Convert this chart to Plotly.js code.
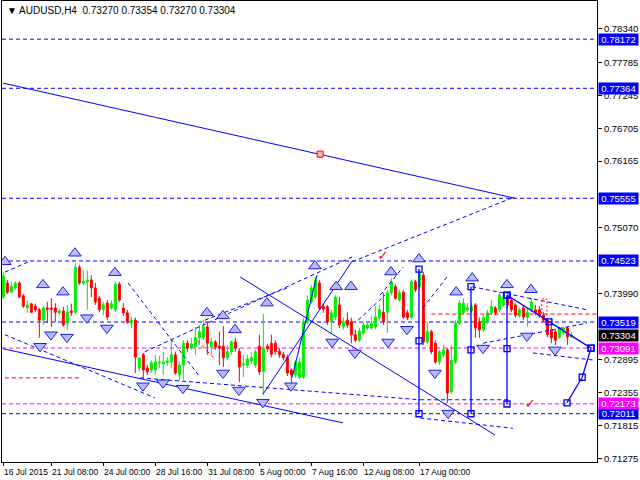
<!DOCTYPE html>
<html><head><meta charset="utf-8">
<script src="https://cdn.plot.ly/plotly-3.0.1.min.js"></script>
<style>html,body{margin:0;padding:0;background:#fff}#chart{width:640px;height:480px}</style>
</head><body><div id="chart"></div>
<script>
// ---- candle data (H4 bars, index 0..142) ----
const open = [0.7393,0.7416,0.7401,0.7408,0.7416,0.7395,0.7375,0.7382,0.7378,0.7372,0.7355,0.7375,0.7375,0.7375,0.7367,0.7370,0.7350,0.7370,0.7368,0.7442,
0.7416,0.7418,0.7421,0.7408,0.7391,0.7372,0.7383,0.7375,0.7372,0.7414,0.7375,0.7367,0.7350,0.7355,0.7276,0.7298,0.7276,0.7273,0.7273,0.7285,
0.7283,0.7285,0.7286,0.7298,0.7265,0.7281,0.7317,0.7309,0.7311,0.7326,0.7326,0.7344,0.7311,0.7319,0.7312,0.7312,0.7293,0.7303,0.7319,0.7304,
0.7281,0.7281,0.7288,0.7281,0.7312,0.7270,0.7312,0.7317,0.7317,0.7304,0.7298,0.7293,0.7273,0.7265,0.7261,0.7261,0.7352,0.7385,0.7393,0.7416,
0.7377,0.7377,0.7352,0.7360,0.7380,0.7344,0.7355,0.7352,0.7331,0.7322,0.7334,0.7342,0.7342,0.7344,0.7359,0.7368,0.7368,0.7400,0.7410,0.7388,
0.7401,0.7367,0.7360,0.7418,0.7410,0.7429,0.7319,0.7336,0.7317,0.7286,0.7298,0.7306,0.7237,0.7286,0.7350,0.7367,0.7372,0.7370,0.7380,0.7352,
0.7339,0.7352,0.7367,0.7375,0.7372,0.7380,0.7393,0.7388,0.7380,0.7362,0.7375,0.7360,0.7372,0.7372,0.7372,0.7363,0.7355,0.7339,0.7336,0.7327,
0.7334,0.7342,0.73270];
const high = [0.7434,0.7421,0.7418,0.7419,0.7419,0.7398,0.7387,0.7383,0.7382,0.7375,0.7378,0.7385,0.7391,0.7383,0.7373,0.7377,0.7380,0.7382,0.7449,0.7446,
0.7437,0.7437,0.7429,0.7416,0.7395,0.7385,0.7388,0.7388,0.7418,0.7418,0.7383,0.7372,0.7360,0.7359,0.7293,0.7301,0.7281,0.7289,0.7298,0.7296,
0.7303,0.7294,0.7322,0.7303,0.7286,0.7322,0.7322,0.7326,0.7344,0.7347,0.7355,0.7352,0.7326,0.7322,0.7336,0.7345,0.7314,0.7322,0.7326,0.7309,
0.7298,0.7298,0.7303,0.7306,0.7331,0.7365,0.7316,0.7331,0.7322,0.7309,0.7303,0.7298,0.7276,0.7289,0.7293,0.7359,0.7396,0.7413,0.7426,0.7421,
0.7383,0.7380,0.7372,0.7396,0.7393,0.7359,0.7368,0.7359,0.7339,0.7342,0.7352,0.7352,0.7362,0.7378,0.7380,0.7400,0.7405,0.7424,0.7414,0.7405,
0.7405,0.7372,0.7421,0.7421,0.7437,0.7434,0.7352,0.7339,0.7322,0.7306,0.7314,0.7309,0.7314,0.7355,0.7388,0.7391,0.7383,0.7383,0.7383,0.7359,
0.7363,0.7372,0.7388,0.7378,0.7400,0.7401,0.7396,0.7391,0.7383,0.7375,0.7380,0.7375,0.7391,0.7380,0.7378,0.7368,0.7359,0.7359,0.7339,0.7345,
0.7345,0.7345,0.73354];
const low = [0.7390,0.7398,0.7400,0.7405,0.7391,0.7375,0.7367,0.7367,0.7368,0.7326,0.7347,0.7350,0.7344,0.7352,0.7363,0.7344,0.7339,0.7362,0.7365,0.7413,
0.7413,0.7372,0.7393,0.7380,0.7368,0.7363,0.7355,0.7372,0.7368,0.7385,0.7362,0.7349,0.7342,0.7268,0.7270,0.7260,0.7265,0.7268,0.7265,0.7276,
0.7265,0.7280,0.7276,0.7265,0.7255,0.7257,0.7303,0.7306,0.7298,0.7314,0.7322,0.7298,0.7298,0.7306,0.7281,0.7278,0.7289,0.7298,0.7303,0.7253,
0.7261,0.7276,0.7283,0.7276,0.7265,0.7232,0.7303,0.7294,0.7298,0.7293,0.7289,0.7263,0.7248,0.7260,0.7258,0.7258,0.7349,0.7382,0.7390,0.7372,
0.7367,0.7347,0.7334,0.7355,0.7342,0.7339,0.7342,0.7317,0.7319,0.7319,0.7331,0.7339,0.7339,0.7340,0.7354,0.7347,0.7334,0.7396,0.7388,0.7385,
0.7357,0.7355,0.7357,0.7401,0.7406,0.7314,0.7316,0.7299,0.7283,0.7281,0.7294,0.7219,0.7234,0.7283,0.7347,0.7363,0.7368,0.7367,0.7326,0.7326,
0.7336,0.7349,0.7363,0.7363,0.7368,0.7377,0.7375,0.7368,0.7359,0.7359,0.7355,0.7344,0.7368,0.7363,0.7359,0.7352,0.7327,0.7317,0.7314,0.7324,
0.7331,0.7314,0.73270];
const close = [0.7428,0.7401,0.7410,0.7416,0.7393,0.7378,0.7380,0.7368,0.7372,0.7355,0.7375,0.7373,0.7373,0.7368,0.7370,0.7347,0.7368,0.7367,0.7442,0.7416,
0.7419,0.7421,0.7408,0.7385,0.7372,0.7380,0.7360,0.7382,0.7414,0.7388,0.7367,0.7352,0.7355,0.7294,0.7293,0.7273,0.7270,0.7285,0.7286,0.7286,
0.7286,0.7288,0.7298,0.7268,0.7281,0.7317,0.7309,0.7316,0.7326,0.7336,0.7344,0.7317,0.7319,0.7311,0.7309,0.7293,0.7303,0.7319,0.7309,0.7278,
0.7283,0.7291,0.7293,0.7303,0.7270,0.7308,0.7308,0.7299,0.7303,0.7298,0.7293,0.7268,0.7265,0.7286,0.7286,0.7352,0.7388,0.7408,0.7421,0.7375,
0.7373,0.7352,0.7367,0.7393,0.7347,0.7352,0.7347,0.7331,0.7322,0.7337,0.7347,0.7347,0.7350,0.7360,0.7372,0.7352,0.7400,0.7418,0.7391,0.7400,
0.7360,0.7359,0.7418,0.7405,0.7433,0.7319,0.7336,0.7303,0.7286,0.7303,0.7306,0.7235,0.7289,0.7350,0.7383,0.7383,0.7375,0.7377,0.7342,0.7339,
0.7359,0.7367,0.7377,0.7367,0.7396,0.7393,0.7380,0.7372,0.7363,0.7372,0.7360,0.7368,0.7385,0.7367,0.7363,0.7355,0.7331,0.7326,0.7322,0.7342,
0.7342,0.7327,0.73304];

// ---- axis labels ----
const timeTickIdx = [0, 12, 25, 38, 51, 64, 77, 90, 104];
const timeTickText = ['16 Jul 2015','21 Jul 08:00','24 Jul 00:00','28 Jul 16:00','31 Jul 08:00','5 Aug 00:00','7 Aug 16:00','12 Aug 08:00','17 Aug 00:00'];
const priceTicks = [0.78340,0.77785,0.77245,0.76705,0.76165,0.75070,0.73990,0.72895,0.72355,0.71815,0.71275];

// ---- levels ----
const blueLevels = [0.78172, 0.77364, 0.75555, 0.74523, 0.73519, 0.72011];
const magentaLevels = [0.73091, 0.72173];
const currentPrice = 0.73304;

// ---- analysis lines: [barIdx0, price0, barIdx1, price1] ----
const solidLines = [
  [-0.1, 0.7745, 127.9, 0.75555],
  [-0.1, 0.7308, 84.9, 0.7186],
  [59.2, 0.7426, 122.9, 0.7166],
  [64.9, 0.7233, 87.2, 0.7452],
  [72.2, 0.7261, 78.4, 0.7429]
];
const dashedLines = [
  [35.4, 0.7303, 87.2, 0.7459],
  [87.2, 0.7451, 127.9, 0.7558],
  [50.4, 0.7355, 71.7, 0.7410],
  [0.4, 0.7331, 37.9, 0.7227],
  [31.2, 0.7416, 49.2, 0.7261],
  [0.4, 0.7434, 6.7, 0.7452],
  [34.2, 0.7260, 104.2, 0.7224],
  [104.2, 0.7224, 126.7, 0.7224],
  [104.2, 0.7194, 127.4, 0.7177],
  [117.2, 0.7410, 145.9, 0.7372],
  [119.9, 0.7317, 145.9, 0.7350],
  [132.4, 0.7301, 147.9, 0.7289],
  [104.9, 0.7375, 110.9, 0.7426],
  [94.2, 0.7396, 99.9, 0.7442],
  [88.7, 0.7355, 95.4, 0.7396]
];
const redDashedLines = [
  [0.4, 0.7260, 19.2, 0.7260],
  [107, 0.7365, 148.4, 0.7365],
  [48.4, 0.7322, 52.4, 0.7294]
];
const redBox = [134.6, 0.7390, 135.9, 0.7363];

// square-marked wave paths
const waveX = [[103.9,103.9,103.9],[116.9,116.9,116.9],[125.9,125.9,125.9],[125.9,136.4,146.9],[140.9,144.7,146.9]];
const waveP = [[0.7439,0.7321,0.7201],[0.7410,0.7306,0.7201],[0.7396,0.7308,0.7217],[0.7396,0.7352,0.7309],[0.7219,0.7261,0.7309]];

// fractals
const fracUpX = [0.4,9.9,14.9,17.9,27.9,50.9,54.9,57.9,65.9,77.9,83.2,86.9,96.9,103.9,113.2,117.2,125.9,131.9];
const fracUpP = [0.7451,0.7413,0.7401,0.7465,0.7433,0.7367,0.7362,0.7339,0.7383,0.7444,0.7410,0.7410,0.7434,0.74555,0.7401,0.7424,0.7413,0.7405];
const fracDnX = [9.2,11.9,15.9,20.9,25.9,34.9,39.9,44.9,54.9,58.9,64.9,71.9,82.2,87.9,96.2,100.9,107.9,111.2,119.9,130.9,137.9];
const fracDnP = [0.7312,0.7331,0.7327,0.7359,0.7342,0.7247,0.7252,0.7243,0.7268,0.7240,0.7220,0.7247,0.7319,0.7301,0.7319,0.7340,0.7268,0.7202,0.7309,0.7329,0.7306];

const checkX = [94.9, 131.7];
const checkP = [0.7459, 0.7215];
const redSquareX = [79.2];
const redSquareP = [0.7628];

// ---- build ----
const BLUE = '#0000ff', MAG = '#ff00ff', RED = '#ff0000', GREEN = '#00ee00';
const DASH = '4px,3px';
function segs(list){
  const x=[], y=[];
  list.forEach(s=>{x.push(s[0],s[2],null); y.push(s[1],s[3],null);});
  return {x,y};
}
const traces = [];
const sl = segs(solidLines);
traces.push({type:'scatter',mode:'lines',x:sl.x,y:sl.y,line:{color:BLUE,width:1},hoverinfo:'skip',showlegend:false});
const dl = segs(dashedLines);
traces.push({type:'scatter',mode:'lines',x:dl.x,y:dl.y,line:{color:BLUE,width:1,dash:DASH},hoverinfo:'skip',showlegend:false});
const rl = segs(redDashedLines);
traces.push({type:'scatter',mode:'lines',x:rl.x,y:rl.y,line:{color:RED,width:1,dash:DASH},hoverinfo:'skip',showlegend:false});
traces.push({type:'candlestick',x:open.map((_,k)=>k),open,high,low,close,
  increasing:{line:{color:GREEN,width:1},fillcolor:GREEN},
  decreasing:{line:{color:RED,width:1},fillcolor:RED},
  whiskerwidth:0,hoverinfo:'skip',showlegend:false});
waveX.forEach((wx,k)=>{
  traces.push({type:'scatter',mode:'lines+markers',x:wx,y:waveP[k],
    line:{color:BLUE,width:1.3},marker:{symbol:'square-open',size:6,color:BLUE,line:{width:1.3}},
    hoverinfo:'skip',showlegend:false});
});
traces.push({type:'scatter',mode:'markers',x:fracUpX,y:fracUpP,
  marker:{symbol:'triangle-up',size:11,color:'#b8b8ff',line:{color:'#2020e0',width:1}},hoverinfo:'skip',showlegend:false});
traces.push({type:'scatter',mode:'markers',x:fracDnX,y:fracDnP,
  marker:{symbol:'triangle-down',size:11,color:'#b8b8ff',line:{color:'#2020e0',width:1}},hoverinfo:'skip',showlegend:false});
traces.push({type:'scatter',mode:'markers',x:redSquareX,y:redSquareP,
  marker:{symbol:'square',size:6,color:'#ffb0b0',line:{color:RED,width:1}},hoverinfo:'skip',showlegend:false});
traces.push({type:'scatter',mode:'text',x:checkX,y:checkP,text:checkX.map(()=>'✓'),
  textfont:{color:RED,size:13,family:'DejaVu Sans'},hoverinfo:'skip',showlegend:false});

const shapes = [];
blueLevels.forEach(p=>shapes.push({type:'line',xref:'paper',x0:0,x1:1,yref:'y',y0:p,y1:p,line:{color:BLUE,width:1,dash:DASH},layer:'below'}));
magentaLevels.forEach(p=>shapes.push({type:'line',xref:'paper',x0:0,x1:1,yref:'y',y0:p,y1:p,line:{color:MAG,width:1,dash:DASH},layer:'below'}));
shapes.push({type:'rect',xref:'x',yref:'y',x0:redBox[0],x1:redBox[2],y0:redBox[1],y1:redBox[3],line:{color:RED,width:1,dash:'2px,2px'}});

const annotations = [];
const lab = (p,bg)=>({xref:'paper',x:1,xanchor:'left',xshift:1,yref:'y',y:p,yanchor:'middle',
  text:p.toFixed(5),showarrow:false,bgcolor:bg,font:{color:'#ffffff',size:9.5,family:'Liberation Sans'},
  width:37,height:9,borderpad:1});
blueLevels.forEach(p=>annotations.push(lab(p,BLUE)));
magentaLevels.forEach(p=>annotations.push(lab(p,MAG)));
annotations.push(lab(currentPrice,'#000000'));
// time axis labels (left-aligned at their tick, as in the terminal)
timeTickIdx.forEach((ix,k)=>annotations.push({xref:'x',x:ix,xanchor:'left',xshift:-1,yref:'paper',y:0,yanchor:'top',yshift:-3,
  text:timeTickText[k],showarrow:false,font:{size:8.5,color:'#000',family:'Liberation Sans'}}));
const n = open.length-1;
annotations.push({xref:'paper',yref:'paper',x:0,y:1,xanchor:'left',yanchor:'top',xshift:3,yshift:-2,showarrow:false,
  text:'▼ AUDUSD,H4  '+[open[n],high[n],low[n],close[n]].map(v=>v.toFixed(5)).join(' '),
  font:{size:10,color:'#000',family:'Liberation Sans'}});

const layout = {
  width:640,height:480,margin:{l:2,r:43,t:1,b:18},
  paper_bgcolor:'#ffffff',plot_bgcolor:'#ffffff',showlegend:false,
  font:{family:'Liberation Sans',color:'#000'},
  xaxis:{range:[-0.33,148.4],showgrid:false,zeroline:false,showline:true,mirror:true,linecolor:'#000',linewidth:1,
    tickmode:'array',tickvals:timeTickIdx,showticklabels:false,ticks:'outside',ticklen:3,tickcolor:'#000',
    rangeslider:{visible:false},fixedrange:true},
  yaxis:{range:[0.71216,0.788],side:'right',showgrid:false,zeroline:false,showline:true,mirror:true,linecolor:'#000',linewidth:1,
    tickmode:'array',tickvals:priceTicks,ticktext:priceTicks.map(v=>v.toFixed(5)),ticks:'outside',ticklen:4,tickcolor:'#000',
    tickfont:{size:9.5,family:'Liberation Sans'},fixedrange:true},
  shapes,annotations
};
Plotly.newPlot('chart',traces,layout,{staticPlot:true,displayModeBar:false});
</script></body></html>
